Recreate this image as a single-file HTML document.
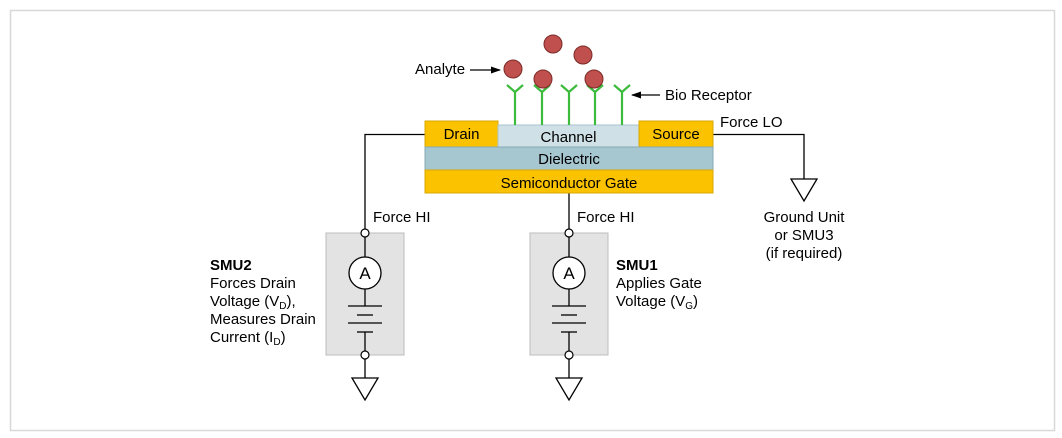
<!DOCTYPE html>
<html><head><meta charset="utf-8"><style>
html,body{margin:0;padding:0;background:#fff;}
svg{display:block;font-family:"Liberation Sans",Arial,sans-serif;}
</style></head><body>
<svg width="1062" height="438" viewBox="0 0 1062 438" xmlns="http://www.w3.org/2000/svg">
<rect x="10.5" y="10.5" width="1044" height="420" fill="#fff" stroke="#d8d8d8" stroke-width="1.5"/>
<defs><marker id="ah" markerWidth="10" markerHeight="10" refX="9" refY="5" orient="auto" markerUnits="userSpaceOnUse"><path d="M0,1.5 L10,5 L0,8.5 Z" fill="#000"/></marker></defs>
<g stroke="#000" stroke-width="1.3" fill="none">
<polyline points="425,134.5 365,134.5 365,233"/>
<polyline points="713,134.5 804,134.5 804,179"/>
<line x1="569" y1="193" x2="569" y2="233"/>
</g>
<rect x="326" y="233" width="78" height="122" fill="#e3e3e3" stroke="#bdbdbd"/>
<rect x="530" y="233" width="78" height="122" fill="#e3e3e3" stroke="#bdbdbd"/>
<g stroke="#000" stroke-width="1.3">
<line x1="365" y1="233" x2="365" y2="306"/><line x1="365" y1="332" x2="365" y2="378"/>
<line x1="569" y1="233" x2="569" y2="306"/><line x1="569" y1="332" x2="569" y2="378"/>
</g>
<rect x="425" y="121" width="73" height="26" fill="#fbc200" stroke="#d9a800"/>
<rect x="498" y="125" width="141" height="22" fill="#cfe0e6" stroke="#a9c4cd"/>
<rect x="639" y="121" width="74" height="26" fill="#fbc200" stroke="#d9a800"/>
<rect x="425" y="147" width="288" height="23" fill="#a6c6d0" stroke="#86aab6"/>
<rect x="425" y="170" width="288" height="23" fill="#fbc200" stroke="#d9a800"/>
<g font-size="15" fill="#000" text-anchor="middle">
<text x="461.5" y="139">Drain</text>
<text x="568.5" y="142">Channel</text>
<text x="676" y="139">Source</text>
<text x="569" y="164">Dielectric</text>
<text x="569" y="188">Semiconductor Gate</text>
</g>
<g stroke="#3dbb3d" stroke-width="2.2" fill="none">
<path d="M515,125 V92 M507,85 L515,92 L523,85"/>
<path d="M542,125 V92 M534,85 L542,92 L550,85"/>
<path d="M569,125 V92 M561,85 L569,92 L577,85"/>
<path d="M595,125 V92 M587,85 L595,92 L603,85"/>
<path d="M622,125 V92 M614,85 L622,92 L630,85"/>
</g>
<g fill="#c0504d" stroke="#7a2a28" stroke-width="1">
<circle cx="553" cy="44" r="9"/>
<circle cx="583" cy="55" r="9"/>
<circle cx="513" cy="69" r="9"/>
<circle cx="543" cy="79" r="9"/>
<circle cx="594" cy="79" r="9"/>
</g>
<g stroke="#000" stroke-width="1.2">
<line x1="470" y1="70" x2="500" y2="70" marker-end="url(#ah)"/>
<line x1="660" y1="95" x2="632" y2="95" marker-end="url(#ah)"/>
</g>
<g font-size="15" fill="#000">
<text x="415" y="74">Analyte</text>
<text x="665" y="100">Bio Receptor</text>
<text x="720" y="127">Force LO</text>
<text x="373" y="222">Force HI</text>
<text x="577" y="222">Force HI</text>
<text x="210" y="270" font-weight="bold">SMU2</text>
<text x="210" y="288">Forces Drain</text>
<text x="210" y="306">Voltage (V<tspan font-size="10" dy="3">D</tspan><tspan dy="-3">),</tspan></text>
<text x="210" y="324">Measures Drain</text>
<text x="210" y="342">Current (I<tspan font-size="10" dy="3">D</tspan><tspan dy="-3">)</tspan></text>
<text x="616" y="270" font-weight="bold">SMU1</text>
<text x="616" y="288">Applies Gate</text>
<text x="616" y="306">Voltage (V<tspan font-size="10" dy="3">G</tspan><tspan dy="-3">)</tspan></text>
</g>
<g font-size="15" fill="#000" text-anchor="middle">
<text x="804" y="222">Ground Unit</text>
<text x="804" y="240">or SMU3</text>
<text x="804" y="258">(if required)</text>
</g>
<g stroke="#000" stroke-width="1.3">
<circle cx="365" cy="273" r="16" fill="#fff"/>
<circle cx="569" cy="273" r="16" fill="#fff"/>
<line x1="348" y1="306" x2="382" y2="306"/><line x1="357" y1="315" x2="373" y2="315"/>
<line x1="348" y1="323" x2="382" y2="323"/><line x1="357" y1="332" x2="373" y2="332"/>
<line x1="552" y1="306" x2="586" y2="306"/><line x1="561" y1="315" x2="577" y2="315"/>
<line x1="552" y1="323" x2="586" y2="323"/><line x1="561" y1="332" x2="577" y2="332"/>
</g>
<g font-size="17" text-anchor="middle" fill="#000">
<text x="365" y="279">A</text><text x="569" y="279">A</text>
</g>
<g fill="#fff" stroke="#000" stroke-width="1.2">
<circle cx="365" cy="233" r="4"/><circle cx="365" cy="355" r="4"/>
<circle cx="569" cy="233" r="4"/><circle cx="569" cy="355" r="4"/>
</g>
<g fill="#fff" stroke="#000" stroke-width="1.3">
<path d="M352,378 L378,378 L365,400 Z"/>
<path d="M556,378 L582,378 L569,400 Z"/>
<path d="M791,179 L817,179 L804,201 Z"/>
</g>
</svg>
</body></html>
